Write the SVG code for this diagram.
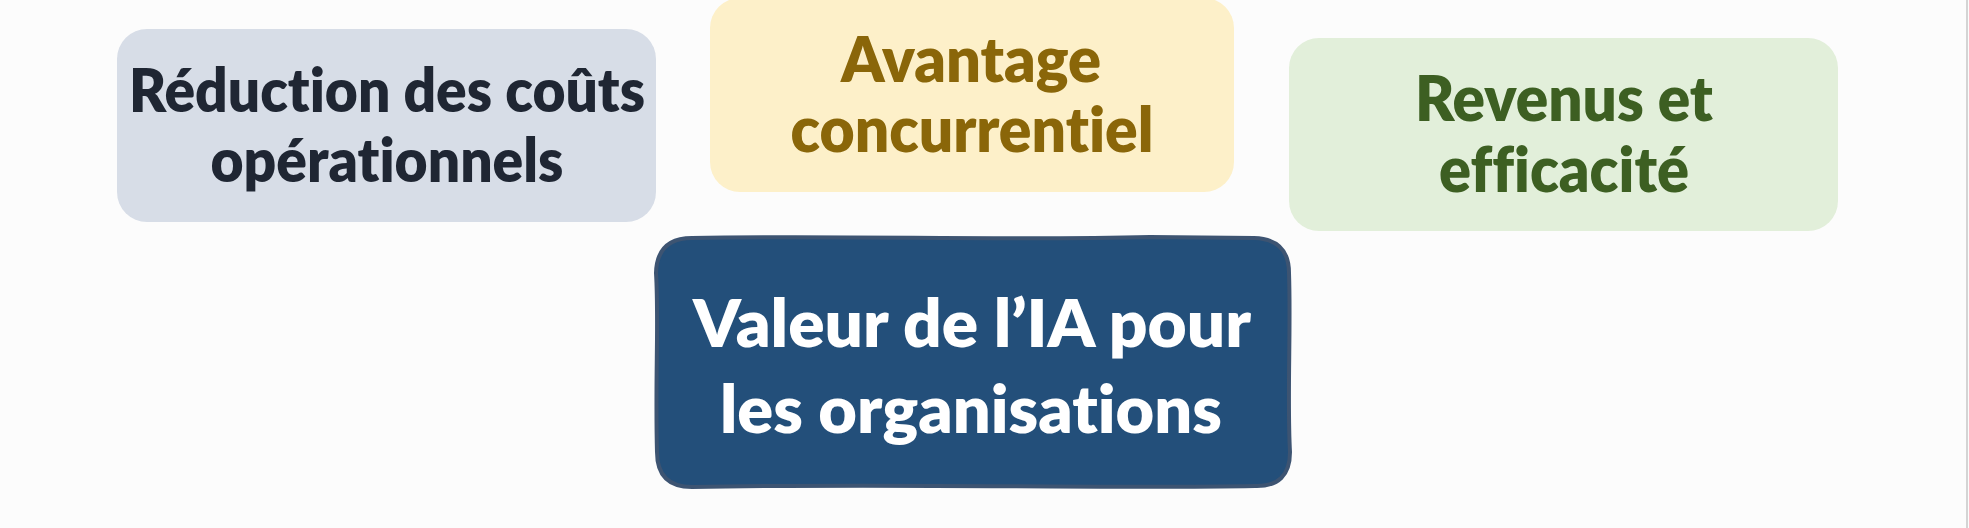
<svg xmlns="http://www.w3.org/2000/svg" width="1969" height="528" viewBox="0 0 1969 528">
<style>
.t{font-family:Lato,"Open Sans","Liberation Sans",sans-serif;font-weight:800;text-anchor:middle;font-variant-ligatures:none;font-feature-settings:"liga" 0,"clig" 0,"dlig" 0}
.t1{fill:#1f2633;font-size:61px}
.t2{fill:#8a6609;font-size:62px}
.t3{fill:#3d5f22;font-size:62px}
.t4{fill:#ffffff;font-size:66px}
</style>
<rect x="0" y="0" width="1969" height="528" fill="#fcfcfc"/>
<line x1="1967" y1="0" x2="1967" y2="528" stroke="#d4d4d4" stroke-width="2"/>
<g id="connectors"></g>
<g id="node-couts">
<rect x="117" y="29" width="539" height="193" rx="30" fill="#d7dde7"/>
<text class="t t1" x="387" y="112" textLength="516" lengthAdjust="spacingAndGlyphs">Réduction des coûts</text>
<text class="t t1" x="387" y="182" textLength="353" lengthAdjust="spacingAndGlyphs">opérationnels</text>
</g>
<g id="node-avantage">
<rect x="710" y="-2" width="524" height="194" rx="30" fill="#fdf0c9"/>
<text class="t t2" x="971" y="82" textLength="260" lengthAdjust="spacingAndGlyphs">Avantage</text>
<text class="t t2" x="972" y="152" textLength="363" lengthAdjust="spacingAndGlyphs">concurrentiel</text>
</g>
<g id="node-revenus">
<rect x="1289" y="38" width="549" height="193" rx="30" fill="#e2efda"/>
<text class="t t3" x="1564" y="121" textLength="298" lengthAdjust="spacingAndGlyphs">Revenus et</text>
<text class="t t3" x="1564" y="192" textLength="250" lengthAdjust="spacingAndGlyphs">efficacité</text>
</g>
<g id="node-valeur">
<path d="M 692,238 C 850,235 1000,241 1150,237 L 1254,238 Q 1289,239 1289,273 C 1291,330 1287,400 1290,452 Q 1290,487 1255,486 C 1100,489 900,483 692,487 Q 657,487 657,452 C 655,380 659,320 656,273 Q 657,238 692,238 Z" fill="#234f7a" stroke="#3d5472" stroke-width="4"/>
<text class="t t4" x="972" y="347" textLength="558" lengthAdjust="spacingAndGlyphs">Valeur de l’IA pour</text>
<text class="t t4" x="971" y="433" textLength="502" lengthAdjust="spacingAndGlyphs">les organisations</text>
</g>
</svg>
